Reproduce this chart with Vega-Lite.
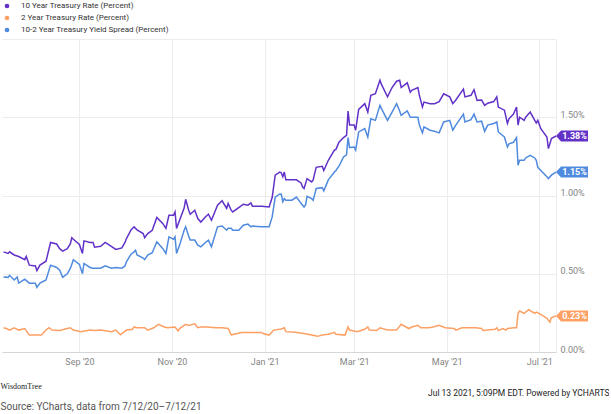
{
  "$schema": "https://vega.github.io/schema/vega-lite/v6.json",
  "width": 554,
  "height": 313,
  "padding": {"left": 0, "top": 2, "right": 0, "bottom": 0},
  "autosize": {"type": "pad"},
  "background": "white",
  "title": {
    "text": "WisdomTree",
    "subtitle": "Source: YCharts, data from 7/12/20\u20137/12/21",
    "orient": "bottom",
    "anchor": "start",
    "frame": "bounds",
    "offset": -14,
    "font": "Liberation Serif",
    "fontSize": 8,
    "fontWeight": "normal",
    "color": "#222222",
    "subtitleFont": "Roboto",
    "subtitleFontSize": 10,
    "subtitleColor": "#555555",
    "subtitlePadding": 11
  },
  "config": {
    "view": {"stroke": null},
    "font": "Roboto",
    "axis": {
      "labelFont": "Roboto",
      "labelColor": "#858585",
      "labelFontSize": 9,
      "gridColor": "#ececec",
      "ticks": false
    },
    "legend": {
      "orient": "top",
      "direction": "vertical",
      "title": null,
      "symbolType": "circle",
      "symbolSize": 22,
      "symbolStrokeWidth": 0,
      "labelFont": "Roboto",
      "labelFontSize": 8,
      "labelColor": "#333333",
      "labelLimit": 400,
      "rowPadding": 4,
      "padding": 0,
      "offset": 5,
      "labelOffset": 10,
      "symbolOffset": 1
    }
  },
  "datasets": {
    "yields": [
      {"date": "2020-07-13", "s": "10y", "v": 0.64},
      {"date": "2020-07-16", "s": "10y", "v": 0.63},
      {"date": "2020-07-17", "s": "10y", "v": 0.64},
      {"date": "2020-07-20", "s": "10y", "v": 0.62},
      {"date": "2020-07-23", "s": "10y", "v": 0.61},
      {"date": "2020-07-27", "s": "10y", "v": 0.59},
      {"date": "2020-07-28", "s": "10y", "v": 0.61},
      {"date": "2020-07-30", "s": "10y", "v": 0.555},
      {"date": "2020-08-03", "s": "10y", "v": 0.55},
      {"date": "2020-08-04", "s": "10y", "v": 0.52},
      {"date": "2020-08-06", "s": "10y", "v": 0.555},
      {"date": "2020-08-10", "s": "10y", "v": 0.58},
      {"date": "2020-08-13", "s": "10y", "v": 0.70},
      {"date": "2020-08-17", "s": "10y", "v": 0.69},
      {"date": "2020-08-19", "s": "10y", "v": 0.66},
      {"date": "2020-08-21", "s": "10y", "v": 0.645},
      {"date": "2020-08-24", "s": "10y", "v": 0.66},
      {"date": "2020-08-26", "s": "10y", "v": 0.69},
      {"date": "2020-08-27", "s": "10y", "v": 0.73},
      {"date": "2020-08-28", "s": "10y", "v": 0.72},
      {"date": "2020-09-01", "s": "10y", "v": 0.687},
      {"date": "2020-09-03", "s": "10y", "v": 0.63},
      {"date": "2020-09-04", "s": "10y", "v": 0.71},
      {"date": "2020-09-08", "s": "10y", "v": 0.70},
      {"date": "2020-09-10", "s": "10y", "v": 0.70},
      {"date": "2020-09-11", "s": "10y", "v": 0.67},
      {"date": "2020-09-15", "s": "10y", "v": 0.675},
      {"date": "2020-09-18", "s": "10y", "v": 0.70},
      {"date": "2020-09-22", "s": "10y", "v": 0.675},
      {"date": "2020-09-25", "s": "10y", "v": 0.655},
      {"date": "2020-09-29", "s": "10y", "v": 0.665},
      {"date": "2020-10-01", "s": "10y", "v": 0.70},
      {"date": "2020-10-02", "s": "10y", "v": 0.725},
      {"date": "2020-10-05", "s": "10y", "v": 0.78},
      {"date": "2020-10-07", "s": "10y", "v": 0.80},
      {"date": "2020-10-08", "s": "10y", "v": 0.79},
      {"date": "2020-10-09", "s": "10y", "v": 0.78},
      {"date": "2020-10-13", "s": "10y", "v": 0.757},
      {"date": "2020-10-14", "s": "10y", "v": 0.73},
      {"date": "2020-10-16", "s": "10y", "v": 0.757},
      {"date": "2020-10-19", "s": "10y", "v": 0.778},
      {"date": "2020-10-22", "s": "10y", "v": 0.86},
      {"date": "2020-10-26", "s": "10y", "v": 0.82},
      {"date": "2020-10-28", "s": "10y", "v": 0.79},
      {"date": "2020-10-30", "s": "10y", "v": 0.874},
      {"date": "2020-11-02", "s": "10y", "v": 0.874},
      {"date": "2020-11-03", "s": "10y", "v": 0.895},
      {"date": "2020-11-04", "s": "10y", "v": 0.79},
      {"date": "2020-11-06", "s": "10y", "v": 0.842},
      {"date": "2020-11-09", "s": "10y", "v": 0.92},
      {"date": "2020-11-10", "s": "10y", "v": 0.976},
      {"date": "2020-11-12", "s": "10y", "v": 0.906},
      {"date": "2020-11-13", "s": "10y", "v": 0.88},
      {"date": "2020-11-16", "s": "10y", "v": 0.906},
      {"date": "2020-11-18", "s": "10y", "v": 0.853},
      {"date": "2020-11-20", "s": "10y", "v": 0.83},
      {"date": "2020-11-23", "s": "10y", "v": 0.863},
      {"date": "2020-11-25", "s": "10y", "v": 0.88},
      {"date": "2020-11-27", "s": "10y", "v": 0.842},
      {"date": "2020-12-01", "s": "10y", "v": 0.938},
      {"date": "2020-12-04", "s": "10y", "v": 0.966},
      {"date": "2020-12-07", "s": "10y", "v": 0.917},
      {"date": "2020-12-08", "s": "10y", "v": 0.949},
      {"date": "2020-12-10", "s": "10y", "v": 0.906},
      {"date": "2020-12-11", "s": "10y", "v": 0.895},
      {"date": "2020-12-15", "s": "10y", "v": 0.923},
      {"date": "2020-12-18", "s": "10y", "v": 0.944},
      {"date": "2020-12-21", "s": "10y", "v": 0.938},
      {"date": "2020-12-23", "s": "10y", "v": 0.953},
      {"date": "2020-12-24", "s": "10y", "v": 0.932},
      {"date": "2020-12-30", "s": "10y", "v": 0.932},
      {"date": "2021-01-04", "s": "10y", "v": 0.927},
      {"date": "2021-01-06", "s": "10y", "v": 0.987},
      {"date": "2021-01-08", "s": "10y", "v": 1.13},
      {"date": "2021-01-11", "s": "10y", "v": 1.15},
      {"date": "2021-01-12", "s": "10y", "v": 1.145},
      {"date": "2021-01-13", "s": "10y", "v": 1.12},
      {"date": "2021-01-14", "s": "10y", "v": 1.15},
      {"date": "2021-01-15", "s": "10y", "v": 1.10},
      {"date": "2021-01-19", "s": "10y", "v": 1.10},
      {"date": "2021-01-22", "s": "10y", "v": 1.10},
      {"date": "2021-01-25", "s": "10y", "v": 1.08},
      {"date": "2021-01-26", "s": "10y", "v": 1.055},
      {"date": "2021-01-27", "s": "10y", "v": 1.045},
      {"date": "2021-01-29", "s": "10y", "v": 1.108},
      {"date": "2021-02-01", "s": "10y", "v": 1.087},
      {"date": "2021-02-02", "s": "10y", "v": 1.10},
      {"date": "2021-02-04", "s": "10y", "v": 1.18},
      {"date": "2021-02-08", "s": "10y", "v": 1.187},
      {"date": "2021-02-09", "s": "10y", "v": 1.16},
      {"date": "2021-02-12", "s": "10y", "v": 1.225},
      {"date": "2021-02-16", "s": "10y", "v": 1.29},
      {"date": "2021-02-17", "s": "10y", "v": 1.295},
      {"date": "2021-02-19", "s": "10y", "v": 1.34},
      {"date": "2021-02-22", "s": "10y", "v": 1.37},
      {"date": "2021-02-24", "s": "10y", "v": 1.385},
      {"date": "2021-02-25", "s": "10y", "v": 1.54},
      {"date": "2021-02-26", "s": "10y", "v": 1.45},
      {"date": "2021-03-01", "s": "10y", "v": 1.45},
      {"date": "2021-03-02", "s": "10y", "v": 1.417},
      {"date": "2021-03-04", "s": "10y", "v": 1.55},
      {"date": "2021-03-08", "s": "10y", "v": 1.587},
      {"date": "2021-03-10", "s": "10y", "v": 1.533},
      {"date": "2021-03-12", "s": "10y", "v": 1.64},
      {"date": "2021-03-15", "s": "10y", "v": 1.65},
      {"date": "2021-03-18", "s": "10y", "v": 1.736},
      {"date": "2021-03-19", "s": "10y", "v": 1.71},
      {"date": "2021-03-23", "s": "10y", "v": 1.63},
      {"date": "2021-03-26", "s": "10y", "v": 1.69},
      {"date": "2021-03-29", "s": "10y", "v": 1.73},
      {"date": "2021-03-31", "s": "10y", "v": 1.736},
      {"date": "2021-04-01", "s": "10y", "v": 1.69},
      {"date": "2021-04-05", "s": "10y", "v": 1.72},
      {"date": "2021-04-07", "s": "10y", "v": 1.66},
      {"date": "2021-04-08", "s": "10y", "v": 1.672},
      {"date": "2021-04-12", "s": "10y", "v": 1.69},
      {"date": "2021-04-13", "s": "10y", "v": 1.64},
      {"date": "2021-04-15", "s": "10y", "v": 1.565},
      {"date": "2021-04-16", "s": "10y", "v": 1.597},
      {"date": "2021-04-20", "s": "10y", "v": 1.587},
      {"date": "2021-04-23", "s": "10y", "v": 1.587},
      {"date": "2021-04-26", "s": "10y", "v": 1.60},
      {"date": "2021-04-29", "s": "10y", "v": 1.65},
      {"date": "2021-05-03", "s": "10y", "v": 1.63},
      {"date": "2021-05-05", "s": "10y", "v": 1.587},
      {"date": "2021-05-07", "s": "10y", "v": 1.61},
      {"date": "2021-05-12", "s": "10y", "v": 1.68},
      {"date": "2021-05-13", "s": "10y", "v": 1.63},
      {"date": "2021-05-17", "s": "10y", "v": 1.64},
      {"date": "2021-05-19", "s": "10y", "v": 1.676},
      {"date": "2021-05-21", "s": "10y", "v": 1.608},
      {"date": "2021-05-24", "s": "10y", "v": 1.61},
      {"date": "2021-05-26", "s": "10y", "v": 1.576},
      {"date": "2021-05-28", "s": "10y", "v": 1.59},
      {"date": "2021-06-01", "s": "10y", "v": 1.60},
      {"date": "2021-06-03", "s": "10y", "v": 1.63},
      {"date": "2021-06-04", "s": "10y", "v": 1.565},
      {"date": "2021-06-08", "s": "10y", "v": 1.545},
      {"date": "2021-06-10", "s": "10y", "v": 1.46},
      {"date": "2021-06-11", "s": "10y", "v": 1.49},
      {"date": "2021-06-14", "s": "10y", "v": 1.52},
      {"date": "2021-06-16", "s": "10y", "v": 1.565},
      {"date": "2021-06-17", "s": "10y", "v": 1.45},
      {"date": "2021-06-18", "s": "10y", "v": 1.50},
      {"date": "2021-06-21", "s": "10y", "v": 1.48},
      {"date": "2021-06-22", "s": "10y", "v": 1.50},
      {"date": "2021-06-25", "s": "10y", "v": 1.533},
      {"date": "2021-06-28", "s": "10y", "v": 1.48},
      {"date": "2021-06-29", "s": "10y", "v": 1.463},
      {"date": "2021-06-30", "s": "10y", "v": 1.48},
      {"date": "2021-07-02", "s": "10y", "v": 1.427},
      {"date": "2021-07-06", "s": "10y", "v": 1.374},
      {"date": "2021-07-07", "s": "10y", "v": 1.30},
      {"date": "2021-07-09", "s": "10y", "v": 1.364},
      {"date": "2021-07-12", "s": "10y", "v": 1.38},

      {"date": "2020-07-13", "s": "2y", "v": 0.155},
      {"date": "2020-07-15", "s": "2y", "v": 0.15},
      {"date": "2020-07-17", "s": "2y", "v": 0.14},
      {"date": "2020-07-20", "s": "2y", "v": 0.155},
      {"date": "2020-07-23", "s": "2y", "v": 0.14},
      {"date": "2020-07-27", "s": "2y", "v": 0.15},
      {"date": "2020-07-30", "s": "2y", "v": 0.108},
      {"date": "2020-08-07", "s": "2y", "v": 0.108},
      {"date": "2020-08-10", "s": "2y", "v": 0.14},
      {"date": "2020-08-12", "s": "2y", "v": 0.155},
      {"date": "2020-08-14", "s": "2y", "v": 0.14},
      {"date": "2020-08-19", "s": "2y", "v": 0.137},
      {"date": "2020-08-24", "s": "2y", "v": 0.15},
      {"date": "2020-08-26", "s": "2y", "v": 0.155},
      {"date": "2020-08-28", "s": "2y", "v": 0.14},
      {"date": "2020-09-02", "s": "2y", "v": 0.13},
      {"date": "2020-09-08", "s": "2y", "v": 0.14},
      {"date": "2020-09-11", "s": "2y", "v": 0.137},
      {"date": "2020-09-15", "s": "2y", "v": 0.14},
      {"date": "2020-09-22", "s": "2y", "v": 0.13},
      {"date": "2020-09-25", "s": "2y", "v": 0.14},
      {"date": "2020-09-28", "s": "2y", "v": 0.11},
      {"date": "2020-10-02", "s": "2y", "v": 0.14},
      {"date": "2020-10-06", "s": "2y", "v": 0.145},
      {"date": "2020-10-07", "s": "2y", "v": 0.16},
      {"date": "2020-10-09", "s": "2y", "v": 0.155},
      {"date": "2020-10-14", "s": "2y", "v": 0.155},
      {"date": "2020-10-16", "s": "2y", "v": 0.14},
      {"date": "2020-10-20", "s": "2y", "v": 0.155},
      {"date": "2020-10-23", "s": "2y", "v": 0.177},
      {"date": "2020-10-27", "s": "2y", "v": 0.16},
      {"date": "2020-10-29", "s": "2y", "v": 0.155},
      {"date": "2020-11-03", "s": "2y", "v": 0.16},
      {"date": "2020-11-05", "s": "2y", "v": 0.135},
      {"date": "2020-11-06", "s": "2y", "v": 0.15},
      {"date": "2020-11-10", "s": "2y", "v": 0.177},
      {"date": "2020-11-12", "s": "2y", "v": 0.17},
      {"date": "2020-11-16", "s": "2y", "v": 0.18},
      {"date": "2020-11-18", "s": "2y", "v": 0.155},
      {"date": "2020-11-20", "s": "2y", "v": 0.16},
      {"date": "2020-11-24", "s": "2y", "v": 0.16},
      {"date": "2020-11-30", "s": "2y", "v": 0.155},
      {"date": "2020-12-04", "s": "2y", "v": 0.155},
      {"date": "2020-12-08", "s": "2y", "v": 0.15},
      {"date": "2020-12-10", "s": "2y", "v": 0.11},
      {"date": "2020-12-14", "s": "2y", "v": 0.118},
      {"date": "2020-12-17", "s": "2y", "v": 0.125},
      {"date": "2020-12-24", "s": "2y", "v": 0.125},
      {"date": "2020-12-30", "s": "2y", "v": 0.125},
      {"date": "2020-12-31", "s": "2y", "v": 0.118},
      {"date": "2021-01-04", "s": "2y", "v": 0.108},
      {"date": "2021-01-07", "s": "2y", "v": 0.14},
      {"date": "2021-01-12", "s": "2y", "v": 0.147},
      {"date": "2021-01-14", "s": "2y", "v": 0.155},
      {"date": "2021-01-15", "s": "2y", "v": 0.13},
      {"date": "2021-01-21", "s": "2y", "v": 0.126},
      {"date": "2021-01-26", "s": "2y", "v": 0.12},
      {"date": "2021-02-01", "s": "2y", "v": 0.108},
      {"date": "2021-02-05", "s": "2y", "v": 0.10},
      {"date": "2021-02-08", "s": "2y", "v": 0.108},
      {"date": "2021-02-12", "s": "2y", "v": 0.113},
      {"date": "2021-02-16", "s": "2y", "v": 0.126},
      {"date": "2021-02-17", "s": "2y", "v": 0.113},
      {"date": "2021-02-23", "s": "2y", "v": 0.108},
      {"date": "2021-02-25", "s": "2y", "v": 0.16},
      {"date": "2021-02-26", "s": "2y", "v": 0.14},
      {"date": "2021-03-03", "s": "2y", "v": 0.13},
      {"date": "2021-03-08", "s": "2y", "v": 0.145},
      {"date": "2021-03-10", "s": "2y", "v": 0.16},
      {"date": "2021-03-11", "s": "2y", "v": 0.14},
      {"date": "2021-03-16", "s": "2y", "v": 0.137},
      {"date": "2021-03-18", "s": "2y", "v": 0.155},
      {"date": "2021-03-23", "s": "2y", "v": 0.14},
      {"date": "2021-03-29", "s": "2y", "v": 0.14},
      {"date": "2021-04-01", "s": "2y", "v": 0.177},
      {"date": "2021-04-06", "s": "2y", "v": 0.15},
      {"date": "2021-04-08", "s": "2y", "v": 0.16},
      {"date": "2021-04-12", "s": "2y", "v": 0.17},
      {"date": "2021-04-14", "s": "2y", "v": 0.155},
      {"date": "2021-04-19", "s": "2y", "v": 0.155},
      {"date": "2021-04-22", "s": "2y", "v": 0.16},
      {"date": "2021-04-26", "s": "2y", "v": 0.17},
      {"date": "2021-04-30", "s": "2y", "v": 0.155},
      {"date": "2021-05-06", "s": "2y", "v": 0.15},
      {"date": "2021-05-07", "s": "2y", "v": 0.14},
      {"date": "2021-05-11", "s": "2y", "v": 0.155},
      {"date": "2021-05-20", "s": "2y", "v": 0.155},
      {"date": "2021-05-24", "s": "2y", "v": 0.15},
      {"date": "2021-05-25", "s": "2y", "v": 0.137},
      {"date": "2021-05-28", "s": "2y", "v": 0.14},
      {"date": "2021-06-02", "s": "2y", "v": 0.145},
      {"date": "2021-06-03", "s": "2y", "v": 0.155},
      {"date": "2021-06-04", "s": "2y", "v": 0.137},
      {"date": "2021-06-07", "s": "2y", "v": 0.15},
      {"date": "2021-06-09", "s": "2y", "v": 0.14},
      {"date": "2021-06-10", "s": "2y", "v": 0.15},
      {"date": "2021-06-14", "s": "2y", "v": 0.155},
      {"date": "2021-06-16", "s": "2y", "v": 0.155},
      {"date": "2021-06-17", "s": "2y", "v": 0.247},
      {"date": "2021-06-18", "s": "2y", "v": 0.262},
      {"date": "2021-06-21", "s": "2y", "v": 0.247},
      {"date": "2021-06-24", "s": "2y", "v": 0.27},
      {"date": "2021-06-28", "s": "2y", "v": 0.247},
      {"date": "2021-06-29", "s": "2y", "v": 0.255},
      {"date": "2021-07-02", "s": "2y", "v": 0.24},
      {"date": "2021-07-06", "s": "2y", "v": 0.215},
      {"date": "2021-07-08", "s": "2y", "v": 0.19},
      {"date": "2021-07-09", "s": "2y", "v": 0.22},
      {"date": "2021-07-12", "s": "2y", "v": 0.23},

      {"date": "2020-07-13", "s": "spread", "v": 0.48},
      {"date": "2020-07-16", "s": "spread", "v": 0.477},
      {"date": "2020-07-17", "s": "spread", "v": 0.49},
      {"date": "2020-07-20", "s": "spread", "v": 0.46},
      {"date": "2020-07-22", "s": "spread", "v": 0.48},
      {"date": "2020-07-23", "s": "spread", "v": 0.44},
      {"date": "2020-07-27", "s": "spread", "v": 0.465},
      {"date": "2020-07-30", "s": "spread", "v": 0.44},
      {"date": "2020-08-03", "s": "spread", "v": 0.44},
      {"date": "2020-08-04", "s": "spread", "v": 0.413},
      {"date": "2020-08-06", "s": "spread", "v": 0.44},
      {"date": "2020-08-10", "s": "spread", "v": 0.46},
      {"date": "2020-08-13", "s": "spread", "v": 0.555},
      {"date": "2020-08-17", "s": "spread", "v": 0.54},
      {"date": "2020-08-19", "s": "spread", "v": 0.523},
      {"date": "2020-08-21", "s": "spread", "v": 0.477},
      {"date": "2020-08-24", "s": "spread", "v": 0.50},
      {"date": "2020-08-26", "s": "spread", "v": 0.534},
      {"date": "2020-08-27", "s": "spread", "v": 0.56},
      {"date": "2020-08-28", "s": "spread", "v": 0.59},
      {"date": "2020-09-01", "s": "spread", "v": 0.56},
      {"date": "2020-09-03", "s": "spread", "v": 0.50},
      {"date": "2020-09-04", "s": "spread", "v": 0.566},
      {"date": "2020-09-08", "s": "spread", "v": 0.54},
      {"date": "2020-09-10", "s": "spread", "v": 0.535},
      {"date": "2020-09-11", "s": "spread", "v": 0.535},
      {"date": "2020-09-15", "s": "spread", "v": 0.535},
      {"date": "2020-09-18", "s": "spread", "v": 0.55},
      {"date": "2020-09-22", "s": "spread", "v": 0.535},
      {"date": "2020-09-25", "s": "spread", "v": 0.54},
      {"date": "2020-09-29", "s": "spread", "v": 0.535},
      {"date": "2020-10-01", "s": "spread", "v": 0.55},
      {"date": "2020-10-02", "s": "spread", "v": 0.576},
      {"date": "2020-10-05", "s": "spread", "v": 0.625},
      {"date": "2020-10-07", "s": "spread", "v": 0.64},
      {"date": "2020-10-08", "s": "spread", "v": 0.65},
      {"date": "2020-10-09", "s": "spread", "v": 0.62},
      {"date": "2020-10-13", "s": "spread", "v": 0.60},
      {"date": "2020-10-14", "s": "spread", "v": 0.59},
      {"date": "2020-10-16", "s": "spread", "v": 0.62},
      {"date": "2020-10-19", "s": "spread", "v": 0.634},
      {"date": "2020-10-22", "s": "spread", "v": 0.704},
      {"date": "2020-10-26", "s": "spread", "v": 0.66},
      {"date": "2020-10-28", "s": "spread", "v": 0.63},
      {"date": "2020-10-30", "s": "spread", "v": 0.736},
      {"date": "2020-11-02", "s": "spread", "v": 0.72},
      {"date": "2020-11-03", "s": "spread", "v": 0.736},
      {"date": "2020-11-04", "s": "spread", "v": 0.63},
      {"date": "2020-11-06", "s": "spread", "v": 0.683},
      {"date": "2020-11-09", "s": "spread", "v": 0.778},
      {"date": "2020-11-10", "s": "spread", "v": 0.80},
      {"date": "2020-11-12", "s": "spread", "v": 0.74},
      {"date": "2020-11-13", "s": "spread", "v": 0.715},
      {"date": "2020-11-16", "s": "spread", "v": 0.715},
      {"date": "2020-11-18", "s": "spread", "v": 0.683},
      {"date": "2020-11-20", "s": "spread", "v": 0.672},
      {"date": "2020-11-23", "s": "spread", "v": 0.70},
      {"date": "2020-11-25", "s": "spread", "v": 0.715},
      {"date": "2020-11-27", "s": "spread", "v": 0.672},
      {"date": "2020-12-01", "s": "spread", "v": 0.80},
      {"date": "2020-12-04", "s": "spread", "v": 0.805},
      {"date": "2020-12-07", "s": "spread", "v": 0.778},
      {"date": "2020-12-08", "s": "spread", "v": 0.79},
      {"date": "2020-12-10", "s": "spread", "v": 0.79},
      {"date": "2020-12-11", "s": "spread", "v": 0.778},
      {"date": "2020-12-15", "s": "spread", "v": 0.778},
      {"date": "2020-12-18", "s": "spread", "v": 0.81},
      {"date": "2020-12-21", "s": "spread", "v": 0.817},
      {"date": "2020-12-23", "s": "spread", "v": 0.80},
      {"date": "2020-12-24", "s": "spread", "v": 0.805},
      {"date": "2020-12-30", "s": "spread", "v": 0.80},
      {"date": "2021-01-04", "s": "spread", "v": 0.80},
      {"date": "2021-01-06", "s": "spread", "v": 0.863},
      {"date": "2021-01-08", "s": "spread", "v": 0.99},
      {"date": "2021-01-11", "s": "spread", "v": 1.01},
      {"date": "2021-01-12", "s": "spread", "v": 1.008},
      {"date": "2021-01-13", "s": "spread", "v": 0.96},
      {"date": "2021-01-14", "s": "spread", "v": 0.98},
      {"date": "2021-01-15", "s": "spread", "v": 0.97},
      {"date": "2021-01-19", "s": "spread", "v": 0.97},
      {"date": "2021-01-22", "s": "spread", "v": 0.99},
      {"date": "2021-01-25", "s": "spread", "v": 0.95},
      {"date": "2021-01-27", "s": "spread", "v": 0.927},
      {"date": "2021-01-28", "s": "spread", "v": 0.94},
      {"date": "2021-01-29", "s": "spread", "v": 0.995},
      {"date": "2021-02-01", "s": "spread", "v": 0.98},
      {"date": "2021-02-02", "s": "spread", "v": 0.97},
      {"date": "2021-02-04", "s": "spread", "v": 1.045},
      {"date": "2021-02-08", "s": "spread", "v": 1.05},
      {"date": "2021-02-09", "s": "spread", "v": 1.03},
      {"date": "2021-02-12", "s": "spread", "v": 1.10},
      {"date": "2021-02-16", "s": "spread", "v": 1.15},
      {"date": "2021-02-17", "s": "spread", "v": 1.16},
      {"date": "2021-02-19", "s": "spread", "v": 1.187},
      {"date": "2021-02-22", "s": "spread", "v": 1.246},
      {"date": "2021-02-24", "s": "spread", "v": 1.26},
      {"date": "2021-02-25", "s": "spread", "v": 1.37},
      {"date": "2021-02-26", "s": "spread", "v": 1.306},
      {"date": "2021-03-01", "s": "spread", "v": 1.31},
      {"date": "2021-03-02", "s": "spread", "v": 1.29},
      {"date": "2021-03-04", "s": "spread", "v": 1.406},
      {"date": "2021-03-08", "s": "spread", "v": 1.427},
      {"date": "2021-03-10", "s": "spread", "v": 1.374},
      {"date": "2021-03-12", "s": "spread", "v": 1.49},
      {"date": "2021-03-15", "s": "spread", "v": 1.48},
      {"date": "2021-03-18", "s": "spread", "v": 1.576},
      {"date": "2021-03-19", "s": "spread", "v": 1.555},
      {"date": "2021-03-23", "s": "spread", "v": 1.48},
      {"date": "2021-03-26", "s": "spread", "v": 1.533},
      {"date": "2021-03-29", "s": "spread", "v": 1.587},
      {"date": "2021-03-31", "s": "spread", "v": 1.54},
      {"date": "2021-04-01", "s": "spread", "v": 1.512},
      {"date": "2021-04-05", "s": "spread", "v": 1.54},
      {"date": "2021-04-07", "s": "spread", "v": 1.50},
      {"date": "2021-04-08", "s": "spread", "v": 1.50},
      {"date": "2021-04-12", "s": "spread", "v": 1.50},
      {"date": "2021-04-13", "s": "spread", "v": 1.45},
      {"date": "2021-04-15", "s": "spread", "v": 1.40},
      {"date": "2021-04-16", "s": "spread", "v": 1.438},
      {"date": "2021-04-20", "s": "spread", "v": 1.417},
      {"date": "2021-04-23", "s": "spread", "v": 1.41},
      {"date": "2021-04-26", "s": "spread", "v": 1.40},
      {"date": "2021-04-29", "s": "spread", "v": 1.47},
      {"date": "2021-05-03", "s": "spread", "v": 1.48},
      {"date": "2021-05-05", "s": "spread", "v": 1.417},
      {"date": "2021-05-07", "s": "spread", "v": 1.45},
      {"date": "2021-05-12", "s": "spread", "v": 1.52},
      {"date": "2021-05-13", "s": "spread", "v": 1.47},
      {"date": "2021-05-17", "s": "spread", "v": 1.485},
      {"date": "2021-05-19", "s": "spread", "v": 1.52},
      {"date": "2021-05-21", "s": "spread", "v": 1.47},
      {"date": "2021-05-24", "s": "spread", "v": 1.475},
      {"date": "2021-05-26", "s": "spread", "v": 1.41},
      {"date": "2021-05-28", "s": "spread", "v": 1.45},
      {"date": "2021-06-01", "s": "spread", "v": 1.46},
      {"date": "2021-06-03", "s": "spread", "v": 1.47},
      {"date": "2021-06-04", "s": "spread", "v": 1.406},
      {"date": "2021-06-08", "s": "spread", "v": 1.374},
      {"date": "2021-06-10", "s": "spread", "v": 1.31},
      {"date": "2021-06-11", "s": "spread", "v": 1.33},
      {"date": "2021-06-14", "s": "spread", "v": 1.34},
      {"date": "2021-06-16", "s": "spread", "v": 1.37},
      {"date": "2021-06-17", "s": "spread", "v": 1.193},
      {"date": "2021-06-18", "s": "spread", "v": 1.225},
      {"date": "2021-06-21", "s": "spread", "v": 1.225},
      {"date": "2021-06-22", "s": "spread", "v": 1.24},
      {"date": "2021-06-25", "s": "spread", "v": 1.257},
      {"date": "2021-06-28", "s": "spread", "v": 1.24},
      {"date": "2021-06-29", "s": "spread", "v": 1.225},
      {"date": "2021-06-30", "s": "spread", "v": 1.18},
      {"date": "2021-07-02", "s": "spread", "v": 1.16},
      {"date": "2021-07-06", "s": "spread", "v": 1.12},
      {"date": "2021-07-07", "s": "spread", "v": 1.108},
      {"date": "2021-07-09", "s": "spread", "v": 1.13},
      {"date": "2021-07-12", "s": "spread", "v": 1.15}
    ]
  },
  "data": {"name": "yields"},
  "encoding": {
    "x": {
      "field": "date",
      "type": "temporal",
      "scale": {
        "type": "utc",
        "domain": [
          {"year": 2020, "month": 7, "date": 12, "utc": true},
          {"year": 2021, "month": 7, "date": 12, "utc": true}
        ]
      },
      "axis": {
        "values": [
          {"year": 2020, "month": 9, "date": 1, "utc": true},
          {"year": 2020, "month": 11, "date": 1, "utc": true},
          {"year": 2021, "month": 1, "date": 1, "utc": true},
          {"year": 2021, "month": 3, "date": 1, "utc": true},
          {"year": 2021, "month": 5, "date": 1, "utc": true},
          {"year": 2021, "month": 7, "date": 1, "utc": true},
          {"year": 2021, "month": 7, "date": 12, "utc": true}
        ],
        "labelExpr": "utcdate(datum.value) == 1 ? utcFormat(datum.value, \"%b '%y\") : ''",
        "grid": true,
        "domainColor": "#d6d6d6",
        "labelPadding": 5,
        "title": "Jul 13 2021, 5:09PM EDT. Powered by YCHARTS",
        "titleFont": "Roboto",
        "titleFontSize": 8.5,
        "titleFontWeight": "normal",
        "titleColor": "#222222",
        "titleAnchor": "end",
        "titleAlign": "right",
        "titleX": 607,
        "titlePadding": 22
      }
    },
    "y": {
      "field": "v",
      "type": "quantitative",
      "scale": {"domain": [0, 2], "nice": false},
      "axis": {
        "orient": "right",
        "values": [0, 0.5, 1, 1.5, 2],
        "labelExpr": "datum.value >= 2 ? '' : format(datum.value, '.2f') + '%'",
        "labelBaseline": "alphabetic",
        "labelPadding": 4,
        "domain": false,
        "grid": true,
        "title": null
      }
    },
    "color": {
      "field": "s",
      "type": "nominal",
      "scale": {
        "domain": ["10y", "2y", "spread"],
        "range": ["#6232c8", "#fda064", "#4f8ade"]
      },
      "legend": {
        "labelExpr": "datum.label == '10y' ? '10 Year Treasury Rate (Percent)' : datum.label == '2y' ? '2 Year Treasury Rate (Percent)' : '10-2 Year Treasury Yield Spread (Percent)'"
      }
    }
  },
  "layer": [
    {
      "mark": {"type": "line", "strokeWidth": 1.5, "interpolate": "linear"}
    },
    {
      "transform": [{"filter": "time(datum.date) >= utc(2021, 6, 11)"}],
      "mark": {
        "type": "point",
        "shape": "M0,0L5,-5.5L32,-5.5L32,5.5L5,5.5Z",
        "size": 4,
        "filled": true,
        "opacity": 1,
        "strokeWidth": 0
      }
    },
    {
      "transform": [
        {"filter": "time(datum.date) >= utc(2021, 6, 11)"},
        {"calculate": "format(datum.v, '.2f') + '%'", "as": "label"}
      ],
      "mark": {
        "type": "text",
        "dx": 18.5,
        "align": "center",
        "baseline": "middle",
        "font": "Roboto",
        "fontSize": 9,
        "fontWeight": "bold",
        "color": "white"
      },
      "encoding": {
        "text": {"field": "label"},
        "color": {"value": "white"}
      }
    }
  ]
}
